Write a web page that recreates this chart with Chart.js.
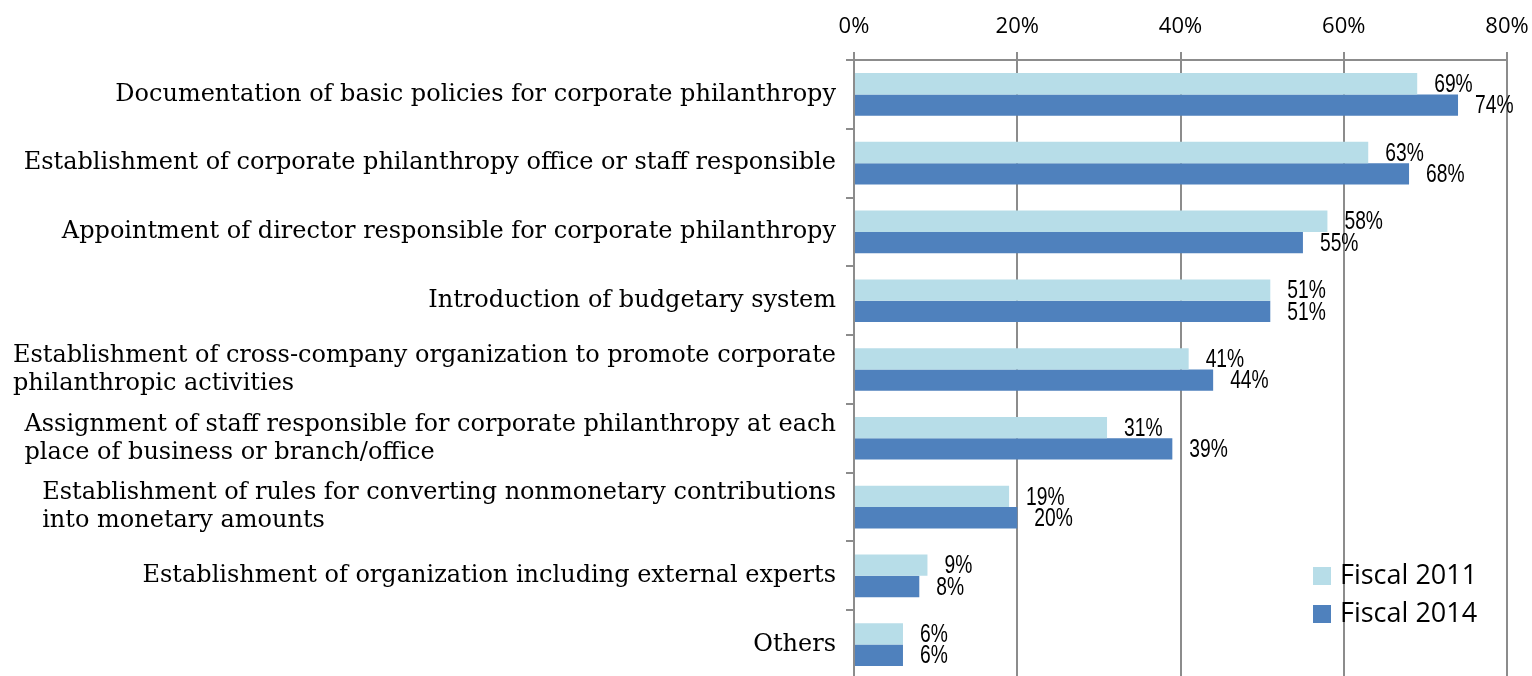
<!DOCTYPE html>
<html>
<head>
<meta charset="utf-8">
<script src="https://cdn.jsdelivr.net/npm/chart.js@4/dist/chart.umd.min.js"></script>
<style>
  html, body { margin: 0; padding: 0; background: #fff; overflow: hidden; }
  #wrap { width: 1532px; height: 679px; position: relative; }
</style>
</head>
<body>
<div id="wrap"><canvas id="grafico"></canvas></div>
<script>
// categorias (cada item = linhas do rótulo)
const categorias = [
    ['Documentation of basic policies for corporate philanthropy'],
    ['Establishment of corporate philanthropy office or staff responsible'],
    ['Appointment of director responsible for corporate philanthropy'],
    ['Introduction of budgetary system'],
    ['Establishment of cross-company organization to promote corporate', 'philanthropic activities'],
    ['Assignment of staff responsible for corporate philanthropy at each', 'place of business or branch/office'],
    ['Establishment of rules for converting nonmonetary contributions', 'into monetary amounts'],
    ['Establishment of organization including external experts'],
    ['Others']
];
const fiscal2011 = [69, 63, 58, 51, 41, 31, 19, 9, 6];
const fiscal2014 = [74, 68, 55, 51, 44, 39, 20, 8, 6];
const ticksX = [0, 20, 40, 60, 80];

const CINZA = '#8c8c8c';

// rótulos das categorias: bloco alinhado à direita, linhas alinhadas à esquerda
const rotulosY = {
    id: 'rotulosY',
    afterDraw(chart) {
        const ctx = chart.ctx;
        const y = chart.scales.y;
        const direita = y.right - 18;
        const alturaLinha = 28;
        ctx.save();
        ctx.font = '24px "DejaVu Serif", serif';
        ctx.fillStyle = '#000';
        ctx.textAlign = 'left';
        ctx.textBaseline = 'middle';
        categorias.forEach((linhas, i) => {
            const centro = y.getPixelForValue(i);
            const largura = Math.max(...linhas.map(l => ctx.measureText(l).width));
            const x0 = direita - largura;
            const topo = centro - (linhas.length - 1) * alturaLinha / 2;
            linhas.forEach((l, k) => ctx.fillText(l, x0, topo + k * alturaLinha));
        });
        ctx.restore();
    }
};

// valores ao lado das barras (fonte estreitada na horizontal)
const valores = {
    id: 'valores',
    afterDatasetsDraw(chart) {
        const ctx = chart.ctx;
        const esc = 0.74;
        ctx.save();
        ctx.font = '26px "Liberation Sans", Arial, sans-serif';
        ctx.fillStyle = '#000';
        ctx.textAlign = 'left';
        ctx.textBaseline = 'middle';
        chart.data.datasets.forEach((ds, d) => {
            chart.getDatasetMeta(d).data.forEach((bar, i) => {
                ctx.save();
                ctx.translate(bar.x + 17, bar.y + 1);
                ctx.scale(esc, 1);
                ctx.fillText(ds.data[i] + '%', 0, 0);
                ctx.restore();
            });
        });
        ctx.restore();
    }
};

// legenda dentro da área do gráfico, canto inferior direito
const legenda = {
    id: 'legenda',
    afterDraw(chart) {
        const ctx = chart.ctx;
        const area = chart.chartArea;
        const x = area.right - 194;
        let y = 567;
        ctx.save();
        ctx.font = '27px "Open Sans", sans-serif';
        ctx.textAlign = 'left';
        ctx.textBaseline = 'middle';
        chart.data.datasets.forEach(ds => {
            ctx.fillStyle = ds.backgroundColor;
            ctx.fillRect(x, y, 18, 18);
            ctx.fillStyle = '#000';
            ctx.fillText(ds.label, x + 27, y + 9);
            y += 38;
        });
        ctx.restore();
    }
};

const ctx = document.getElementById('grafico');
new Chart(ctx, {
    type: 'bar',
    data: {
        labels: categorias.map(c => c.join(' ')),
        datasets: [{
            label: 'Fiscal 2011',
            data: fiscal2011,
            backgroundColor: '#b7dde8', // azul claro
            categoryPercentage: 0.62,
            barPercentage: 1.0
        }, {
            label: 'Fiscal 2014',
            data: fiscal2014,
            backgroundColor: '#4f81bd', // azul
            categoryPercentage: 0.62,
            barPercentage: 1.0
        }]
    },
    options: {
        indexAxis: 'y',
        responsive: true,
        maintainAspectRatio: false,
        animation: false,
        layout: { padding: { left: 0, right: 25, top: 0, bottom: 0 } },
        scales: {
            x: {
                position: 'top',
                min: ticksX[0],
                max: ticksX[ticksX.length - 1],
                afterBuildTicks: s => { s.ticks = ticksX.map(v => ({ value: v })); },
                afterFit: s => { s.height = 60; s.paddingLeft = 0; s.paddingRight = 0; },
                ticks: {
                    callback: v => v + '%',
                    color: '#000',
                    padding: 12,
                    maxRotation: 0,
                    font: { family: 'Open Sans', size: 22 }
                },
                grid: { color: CINZA, lineWidth: 2, tickLength: 8 },
                border: { color: CINZA, width: 2 }
            },
            y: {
                afterFit: s => { s.width = 854; },
                ticks: { display: false },
                grid: { drawOnChartArea: false, tickLength: 8, color: CINZA, lineWidth: 2, offset: true },
                border: { color: CINZA, width: 2 }
            }
        },
        plugins: {
            legend: { display: false }, // legenda própria
            tooltip: { enabled: false }
        }
    },
    plugins: [rotulosY, valores, legenda]
});
</script>
</body>
</html>
